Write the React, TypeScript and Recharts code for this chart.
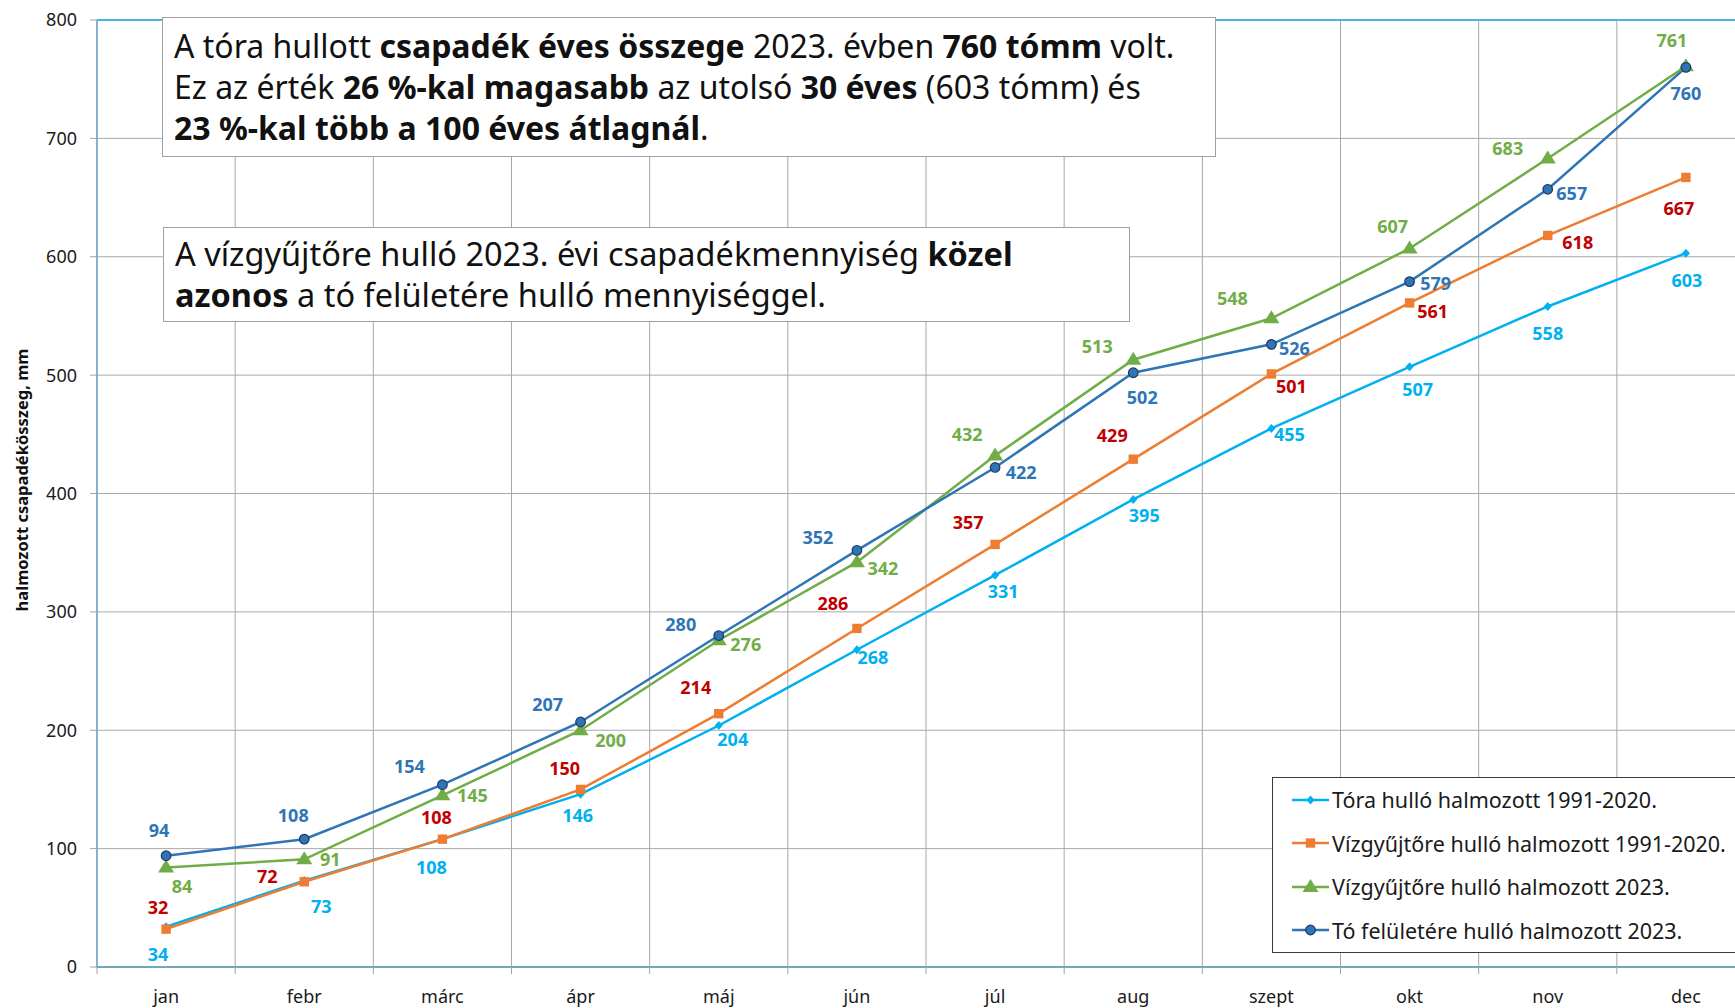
import React from 'react';
import { LineChart, Line, XAxis, YAxis, CartesianGrid, ReferenceLine, LabelList, Legend } from 'recharts';

// ---- data ----
const months = ['jan', 'febr', 'márc', 'ápr', 'máj', 'jún', 'júl', 'aug', 'szept', 'okt', 'nov', 'dec'];
const toraHist = [34, 73, 108, 146, 204, 268, 331, 395, 455, 507, 558, 603];
const vizHist = [32, 72, 108, 150, 214, 286, 357, 429, 501, 561, 618, 667];
const viz2023 = [84, 91, 145, 200, 276, 342, 432, 513, 548, 607, 683, 761];
const to2023 = [94, 108, 154, 207, 280, 352, 422, 502, 526, 579, 657, 760];
const yTicks = [0, 100, 200, 300, 400, 500, 600, 700, 800];
const boundTicks = [0, 1, 2, 3, 4, 5, 6, 7, 8, 9, 10, 11, 12];

const seriesNames = {
  toraHist: 'Tóra hulló halmozott 1991-2020.',
  vizHist: 'Vízgyűjtőre hulló halmozott 1991-2020.',
  viz2023: 'Vízgyűjtőre hulló halmozott 2023.',
  to2023: 'Tó felületére hulló halmozott 2023.',
};

// ---- label placement (offset of label centre from point) ----
const toraHistOff = [[-8, 28], [17, 26], [-11, 28], [-3, 21], [14, 14], [16, 8], [8, 16], [11, 16], [18, 6], [8, 23], [0, 27], [1, 27]];
const vizHistOff = [[-8, -22], [-37, -5], [-6, -22], [-16, -21], [-23, -26], [-24, -25], [-27, -22], [-21, -24], [20, 13], [23, 9], [30, 7], [-7, 31]];
const viz2023Off = [[16, 19], [26, 0], [30, 0], [30, 10], [27, 4], [26, 6], [-28, -21], [-36, -13], [-39, -20], [-17, -22], [-40, -10], [-14, -26]];
const to2023Off = [[-7, -25], [-11, -24], [-33, -18], [-33, -17], [-38, -11], [-39, -13], [26, 5], [9, 25], [23, 4], [26, 2], [24, 4], [0, 26]];

const data = months.map((m, i) => ({
  month: m,
  toraHist: toraHist[i],
  vizHist: vizHist[i],
  viz2023: viz2023[i],
  to2023: to2023[i],
}));

const FONT = '"Noto Sans", "Open Sans", sans-serif';

type Kind = 'diamond' | 'square' | 'triangle' | 'circle';

const series: { key: keyof typeof seriesNames; color: string; labelColor: string; kind: Kind; off: number[][] }[] = [
  { key: 'toraHist', color: '#00B0F0', labelColor: '#00B0F0', kind: 'diamond', off: toraHistOff },
  { key: 'vizHist', color: '#ED7D31', labelColor: '#C00000', kind: 'square', off: vizHistOff },
  { key: 'viz2023', color: '#70AD47', labelColor: '#70AD47', kind: 'triangle', off: viz2023Off },
  { key: 'to2023', color: '#2E75B6', labelColor: '#2E75B6', kind: 'circle', off: to2023Off },
];

const Marker = ({ kind, cx, cy, color }: { kind: Kind; cx: number; cy: number; color: string }) => {
  if (kind === 'diamond') {
    return <path d={`M${cx},${cy - 4.5}L${cx + 4},${cy}L${cx},${cy + 4.5}L${cx - 4},${cy}Z`} fill={color} />;
  }
  if (kind === 'square') {
    return <rect x={cx - 4.7} y={cy - 4.7} width={9.4} height={9.4} fill={color} />;
  }
  if (kind === 'triangle') {
    return <path d={`M${cx},${cy - 8}L${cx + 8},${cy + 5}L${cx - 8},${cy + 5}Z`} fill={color} />;
  }
  return <circle cx={cx} cy={cy} r={4.8} fill={color} stroke="#1F3864" strokeWidth={1.2} />;
};

const makeDot = (kind: Kind, color: string) => (props: any) => {
  const { cx, cy, index } = props;
  if (cx == null || cy == null) return <g key={`d-${index}`} />;
  return (
    <g key={`d-${kind}-${index}`}>
      <Marker kind={kind} cx={cx} cy={cy} color={color} />
    </g>
  );
};

const makeLabel = (off: number[][], color: string) => (props: any) => {
  const { x, y, value, index } = props;
  const o = off[index] || [0, -20];
  return (
    <text
      key={`l-${index}`}
      x={x + o[0]}
      y={y + o[1]}
      dy="0.36em"
      textAnchor="middle"
      fill={color}
      fontFamily={FONT}
      fontWeight={700}
      fontSize={18}
    >
      {value}
    </text>
  );
};

// category axis tick: label at band centre, tick mark at band's left boundary
const makeCatTick = (bandCount: number) => (props: any) => {
  const { x, y, payload, index, width } = props;
  const bw = width / bandCount;
  const left = x - bw / 2;
  const axisY = y - 17 - 6;
  return (
    <g key={`t-${index}`}>
      <line x1={left} y1={axisY} x2={left} y2={axisY + 7} stroke="#A0A0A0" />
      {index === bandCount - 1 && (
        <line x1={left + bw} y1={axisY} x2={left + bw} y2={axisY + 7} stroke="#A0A0A0" />
      )}
      <text x={x} y={y} dy="0.71em" textAnchor="middle" fill="#1a1a1a" fontFamily={FONT} fontSize={18}>
        {payload.value}
      </text>
    </g>
  );
};

const LegendBox = () => (
  <div
    style={{
      background: '#fff',
      border: '1.5px solid #3a3a3a',
      boxSizing: 'border-box',
      width: 480,
      height: 176,
      paddingLeft: 19,
      fontFamily: FONT,
      fontSize: 21.5,
      color: '#1a1a1a',
    }}
  >
    {series.map((s) => (
      <div key={s.key} style={{ display: 'flex', alignItems: 'center', height: 43.5, whiteSpace: 'nowrap' }}>
        <svg width={37} height={20} style={{ flex: 'none' }}>
          <line x1={0} y1={10} x2={37} y2={10} stroke={s.color} strokeWidth={2.5} />
          <Marker kind={s.kind} cx={18.5} cy={10} color={s.color} />
        </svg>
        <span style={{ marginLeft: 3 }}>{seriesNames[s.key]}</span>
      </div>
    ))}
  </div>
);

const boxBase: React.CSSProperties = {
  position: 'absolute',
  background: '#fff',
  border: '1.5px solid #a0a0a0',
  boxSizing: 'border-box',
  fontFamily: FONT,
  fontSize: 32,
  lineHeight: '41px',
  color: '#111',
  whiteSpace: 'nowrap',
  paddingLeft: 11,
};

const verticalLines = ({ offset }: any) =>
  boundTicks.map((k) => offset.left + (offset.width * k) / months.length);

export default function App() {
  return (
    <div style={{ position: 'absolute', left: 0, top: 0, width: 1735, height: 1008, overflow: 'hidden', background: '#fff' }}>
      <LineChart width={1760} height={1008} data={data} margin={{ top: 20, right: 5, bottom: 0, left: 0 }}>
        <XAxis
          dataKey="month"
          scale="band"
          interval={0}
          height={41}
          tickLine={false}
          tickMargin={17}
          axisLine={{ stroke: '#72A8BE', strokeWidth: 2 }}
          tick={makeCatTick(months.length)}
        />
        <YAxis
          width={97}
          domain={[0, 800]}
          ticks={yTicks}
          interval={0}
          tickSize={7}
          tickMargin={13}
          tickLine={{ stroke: '#A0A0A0' }}
          axisLine={{ stroke: '#6FA8CC', strokeWidth: 1.5 }}
          tick={{ fontSize: 18, fill: '#1a1a1a', fontFamily: FONT }}
        />
        <CartesianGrid stroke="#A8A8A8" strokeWidth={1} verticalCoordinatesGenerator={verticalLines} />
        <ReferenceLine y={800} stroke="#4DB3E6" strokeWidth={2} />
        {series.map((s) => (
          <Line
            key={s.key}
            dataKey={s.key}
            name={seriesNames[s.key]}
            stroke={s.color}
            strokeWidth={2.5}
            dot={makeDot(s.kind, s.color)}
            activeDot={false}
            isAnimationActive={false}
          >
            <LabelList dataKey={s.key} content={makeLabel(s.off, s.labelColor)} />
          </Line>
        ))}
        <Legend
          layout="vertical"
          align="center"
          verticalAlign="middle"
          content={() => <LegendBox />}
          wrapperStyle={{ left: 1272, top: 777, width: 480, height: 176 }}
        />
      </LineChart>

      <div style={{ ...boxBase, left: 162, top: 17, width: 1054, height: 140, paddingTop: 7 }}>
        <div>
          A tóra hullott <b>csapadék éves összege</b> 2023. évben <b>760 tómm</b> volt.
        </div>
        <div>
          Ez az érték <b>26 %-kal magasabb</b> az utolsó <b>30 éves</b> (603 tómm) és
        </div>
        <div>
          <b>23 %-kal több a 100 éves átlagnál</b>.
        </div>
      </div>

      <div style={{ ...boxBase, left: 163, top: 227, width: 967, height: 95, paddingTop: 5, fontSize: 32.5 }}>
        <div>
          A vízgyűjtőre hulló 2023. évi csapadékmennyiség <b>közel</b>
        </div>
        <div>
          <b>azonos</b> a tó felületére hulló mennyiséggel.
        </div>
      </div>

      <div
        style={{
          position: 'absolute',
          left: 21,
          top: 480,
          transform: 'translate(-50%, -50%) rotate(-90deg)',
          whiteSpace: 'nowrap',
          fontFamily: FONT,
          fontWeight: 700,
          fontSize: 16.5,
          color: '#111',
        }}
      >
        halmozott csapadékösszeg, mm
      </div>
    </div>
  );
}
